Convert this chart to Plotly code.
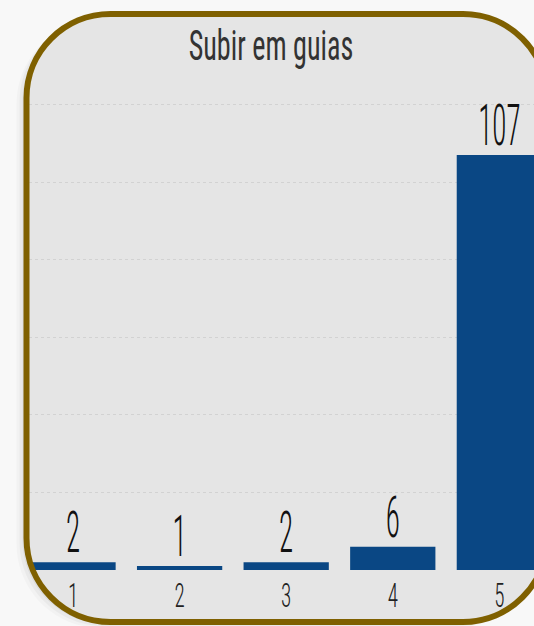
import plotly.graph_objects as go

categories = ["1", "2", "3", "4", "5"]
values = [2, 1, 2, 6, 107]
title_text = "Subir em guias"

W, H = 534, 626
ML, MR, MT, MB = 29, 0, 100, 56
PW = W - ML - MR
PH = H - MT - MB
FONT = "Roboto Condensed, Open Sans, sans-serif"


def px2paper(x, y):
    return (x - ML) / PW, (H - MB - y) / PH


def rounded_path(L, T, R, B, r):
    k = 0.5523 * r
    def P(x, y):
        a, b = px2paper(x, y)
        return f"{a:.5f},{b:.5f}"
    s = f"M {P(L + r, T)} L {P(R - r, T)} "
    s += f"C {P(R - r + k, T)} {P(R, T + r - k)} {P(R, T + r)} "
    s += f"L {P(R, B - r)} "
    s += f"C {P(R, B - r + k)} {P(R - r + k, B)} {P(R - r, B)} "
    s += f"L {P(L + r, B)} "
    s += f"C {P(L + r - k, B)} {P(L, B - r + k)} {P(L, B - r)} "
    s += f"L {P(L, T + r)} "
    s += f"C {P(L, T + r - k)} {P(L + r - k, T)} {P(L + r, T)} Z"
    return s


BOX = (26.5, 14, 547, 622, 84)

shapes = []
for dx, dy, op in [(-10, 6, 0.025), (-7, 4, 0.035), (-4, 2, 0.05)]:
    L, T, R, B, r = BOX
    shapes.append(dict(type="path", xref="paper", yref="paper", layer="below",
                       path=rounded_path(L + dx, T + dy, R + dx, B + dy, r),
                       fillcolor=f"rgba(0,0,0,{op})", line=dict(width=0)))
shapes.append(dict(type="path", xref="paper", yref="paper", layer="below",
                   path=rounded_path(*BOX), fillcolor="#e5e5e5", line=dict(width=0)))
shapes.append(dict(type="path", xref="paper", yref="paper", layer="above",
                   path=rounded_path(*BOX), fillcolor="rgba(0,0,0,0)",
                   line=dict(color="#7f6000", width=6)))

fig = go.Figure(go.Bar(
    x=categories, y=values,
    marker=dict(color="#0a4784", line=dict(width=0)),
    texttemplate="%{y}", textposition="outside", cliponaxis=False,
    constraintext="none",
    textfont=dict(family=FONT, size=57, color="#111111", weight=300),
))

fig.update_layout(
    width=W, height=H,
    margin=dict(l=ML, r=MR, t=MT, b=MB, pad=0),
    paper_bgcolor="#f8f8f8", plot_bgcolor="rgba(0,0,0,0)",
    bargap=0.2, showlegend=False,
    shapes=shapes,
    title=dict(text=title_text, x=271 / W, xanchor="center", y=1 - 45 / H, yanchor="middle",
               xref="container", yref="container",
               font=dict(family=FONT, size=42, color="#333333")),
    xaxis=dict(type="category", range=[-0.413, 4.325], showgrid=False, zeroline=False,
               showline=False, ticks="", ticklabelstandoff=2,
               tickfont=dict(family=FONT, size=34, color="#222222", weight=300)),
    yaxis=dict(range=[0, 121.2], dtick=20, showgrid=True, gridcolor="#d2d2d2",
               griddash="dot", gridwidth=1, zeroline=False, showticklabels=False,
               showline=False, ticks=""),
)

# condense the glyphs horizontally (the reference uses a very narrow typeface)
post_js = """
var gd = document.getElementById('{plot_id}');
function squeeze(){
  var specs = [['.gtitle', 0.67, 0], ['.bartext', 0.51, 7], ['.xtick text', 0.62, 0]];
  specs.forEach(function(s){
    gd.querySelectorAll(s[0]).forEach(function(t){
      t.removeAttribute('textLength');
      var L = t.getComputedTextLength();
      t.setAttribute('textLength', (L * s[1]).toFixed(2));
      t.setAttribute('lengthAdjust', 'spacingAndGlyphs');
      if (s[2]) { t.setAttribute('dy', s[2]); }
    });
  });
}
squeeze();
gd.on('plotly_afterplot', squeeze);
"""

fig.write_html("out.html", post_script=post_js)
